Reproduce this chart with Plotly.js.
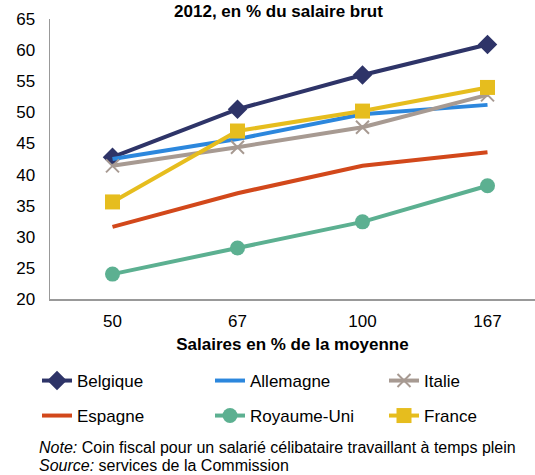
<!DOCTYPE html>
<html><head><meta charset="utf-8">
<script src="https://cdn.plot.ly/plotly-3.0.1.min.js"></script>
<style>html,body{margin:0;padding:0;background:#fff}#chart{width:535px;height:475px}</style>
</head><body><div id="chart"></div>
<script>
var categories = ["50", "67", "100", "167"];
var belgique = [42.8, 50.5, 56.0, 60.9];
var allemagne = [42.5, 45.7, 49.7, 51.2];
var italie = [41.4, 44.4, 47.6, 52.8];
var espagne = [31.6, 37.0, 41.4, 43.6];
var royaumeUni = [24.0, 28.2, 32.4, 38.2];
var france = [35.6, 47.0, 50.2, 54.0];

var xpos = categories.map(function(c, i){ return i; });
var F = "Liberation Sans, Arial, sans-serif";

function tr(name, y, color, sym, legend, msize){
  var t = {x: xpos, y: y, name: name, type: 'scatter', legend: legend,
    line: {color: color, width: 4}, mode: sym ? 'lines+markers' : 'lines'};
  if (sym) t.marker = {symbol: sym, size: msize || 13, color: color,
    line: {color: color, width: sym.indexOf('x') === 0 ? 2 : 0}};
  return t;
}
var data = [
  tr('Belgique', belgique, '#2E3468', 'diamond', 'legend', 15),
  tr('Allemagne', allemagne, '#2C87DD', null, 'legend2'),
  tr('Italie', italie, '#A79A92', 'x-thin-open', 'legend3', 13),
  tr('Espagne', espagne, '#D2481B', null, 'legend4'),
  tr('Royaume-Uni', royaumeUni, '#5CB091', 'circle', 'legend5', 15),
  tr('France', france, '#E6BD1E', 'square', 'legend6', 15)
];

function leg(px, py){
  return {orientation: 'h', xref: 'container', yref: 'container', x: px/535, xanchor: 'left',
    y: 1 - py/475, yanchor: 'middle',
    font: {family: F, size: 17, color: '#000'}, bgcolor: 'rgba(0,0,0,0)'};
}
var colX = [37, 210, 384];
var rowY = [381, 416];
var layout = {
  width: 535, height: 475,
  margin: {l: 50, r: 0, t: 19, b: 176},
  paper_bgcolor: '#fff', plot_bgcolor: '#fff',
  font: {family: F, size: 17, color: '#000'},
  title: {text: '<b>2012, en % du salaire brut</b>', font: {family: F, size: 17, color: '#000'},
    xref: 'container', x: 0.5206, xanchor: 'center', yref: 'container', y: 1 - 11/475, yanchor: 'middle'},
  xaxis: {range: [-0.5, 3.38], tickvals: xpos, ticktext: categories, showgrid: false, zeroline: false,
    showline: true, linecolor: '#999', linewidth: 1.5, ticks: 'outside', ticklen: 6, tickcolor: 'rgba(0,0,0,0)',
    tickfont: {family: F, size: 17},
    title: {text: '<b>Salaires en % de la moyenne</b>', font: {family: F, size: 17}, standoff: 8}},
  yaxis: {range: [20, 65], dtick: 5, showgrid: false, zeroline: false, showline: true, linecolor: '#999', linewidth: 1.5,
    ticks: 'outside', ticklen: 10, tickcolor: 'rgba(0,0,0,0)', tickfont: {family: F, size: 17}},
  legend: leg(colX[0], rowY[0]),
  legend2: leg(colX[1], rowY[0]),
  legend3: leg(colX[2], rowY[0]),
  legend4: leg(colX[0], rowY[1]),
  legend5: leg(colX[1], rowY[1]),
  legend6: leg(colX[2], rowY[1]),
  showlegend: true,
  annotations: [
    {text: '<i>Note:</i> Coin fiscal pour un salarié célibataire travaillant à temps plein', xref: 'paper', yref: 'paper',
      x: -0.0268, y: (299-447)/280, xanchor: 'left', yanchor: 'middle', showarrow: false, font: {family: F, size: 16}},
    {text: '<i>Source:</i> services de la Commission', xref: 'paper', yref: 'paper',
      x: -0.0268, y: (299-465)/280, xanchor: 'left', yanchor: 'middle', showarrow: false, font: {family: F, size: 16}}
  ]
};
Plotly.newPlot('chart', data, layout, {displayModeBar: false, staticPlot: true});
</script></body></html>
